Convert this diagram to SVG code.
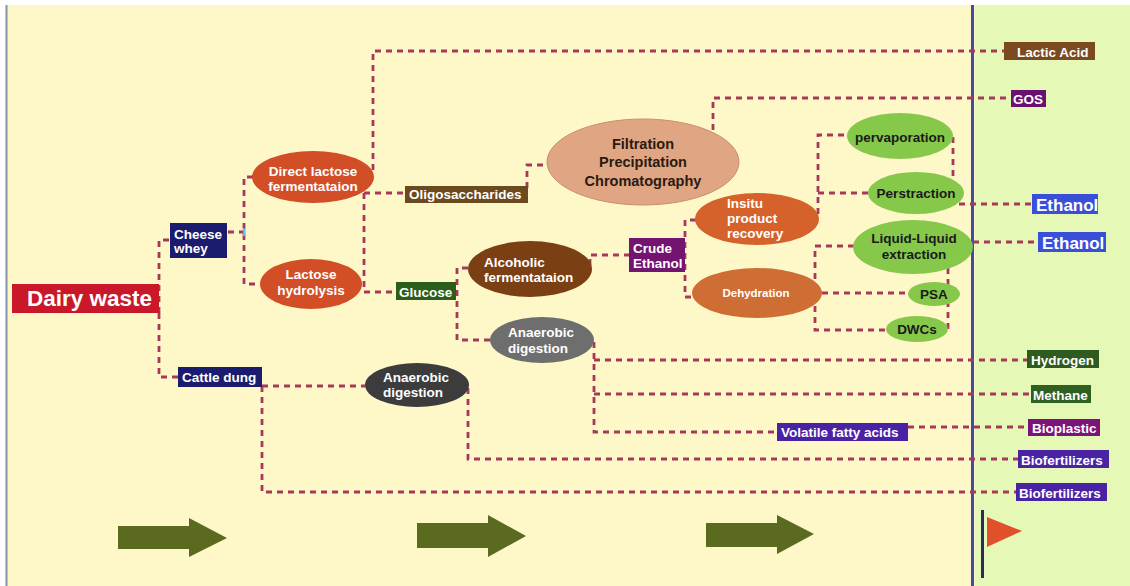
<svg xmlns="http://www.w3.org/2000/svg" width="1130" height="586" viewBox="0 0 1130 586">
<style>
.c{fill:none;stroke:#A8385A;stroke-width:2.8;stroke-dasharray:6 5}
text{font-family:"Liberation Sans",Arial,sans-serif;font-weight:bold;font-size:13.5px;fill:#fff}
.dk{fill:#1a1a1a}
.fl{fill:#2a1a10;font-size:14.5px}
.arrow{fill:#5A6A1E}
</style>
<rect x="0" y="0" width="1130" height="586" fill="#fff"/>
<rect x="7" y="5" width="968" height="581" fill="#FEF8C9"/>
<rect x="975" y="5" width="155" height="581" fill="#E6F8B6"/>
<line x1="6.5" y1="5" x2="6.5" y2="586" stroke="#8393AA" stroke-width="2"/>
<line x1="972.5" y1="5" x2="972.5" y2="586" stroke="#3A4F9E" stroke-width="3"/>

<g id="connectors">
<path class="c" d="M159 313 V240 H170"/>
<path class="c" d="M159 313 V377 H178"/>
<path class="c" d="M228 232 H244"/>
<path class="c" d="M253 177 H244 V284 H260"/>
<path class="c" d="M373 170 V51 H1004"/>
<path class="c" d="M364 193 H405"/>
<path class="c" d="M364 193 V292 H396"/>
<path class="c" d="M527 188 V165 H547"/>
<path class="c" d="M713 130 V98 H1011"/>
<path class="c" d="M468 268 H457 V340 H490"/>
<path class="c" d="M590 265 V255 H629"/>
<path class="c" d="M696 220 H685 V297 H692"/>
<path class="c" d="M818 214 V135 H847"/>
<path class="c" d="M818 193 H868"/>
<path class="c" d="M953 137 V178"/>
<path class="c" d="M959 204 H1032"/>
<path class="c" d="M973 242 H1038"/>
<path class="c" d="M854 246 H815 V330 H887"/>
<path class="c" d="M822 293 H908"/>
<path class="c" d="M948 268 V330"/>
<path class="c" d="M594 342 V432 H777"/>
<path class="c" d="M594 360 H1027"/>
<path class="c" d="M594 394 H1031"/>
<path class="c" d="M908 427 H1028"/>
<path class="c" d="M262 386 H365"/>
<path class="c" d="M262 386 V492 H1016"/>
<path class="c" d="M468 388 V459 H1018"/>
</g>
<rect x="243" y="228" width="2.5" height="8" fill="#4FC3F0"/>

<g id="dairy-waste"><rect x="12" y="284" width="147" height="29" fill="#C8182A"/><text x="27" y="306" style="font-size:22.5px">Dairy waste</text></g>
<g id="cheese-whey"><rect x="170" y="223" width="57" height="35" fill="#1C1C6E"/><text x="174" y="239">Cheese</text><text x="174" y="253">whey</text></g>
<g id="cattle-dung"><rect x="178" y="367" width="84" height="20" fill="#1C1C6E"/><text x="182" y="382">Cattle dung</text></g>
<g id="direct-lactose"><ellipse cx="313" cy="177" rx="61" ry="26" fill="#D24E26"/><text x="313" y="176" text-anchor="middle">Direct lactose</text><text x="313" y="191" text-anchor="middle">fermentataion</text></g>
<g id="lactose-hydrolysis"><ellipse cx="311" cy="284" rx="51" ry="25" fill="#D24E26"/><text x="311" y="279" text-anchor="middle">Lactose</text><text x="311" y="295" text-anchor="middle">hydrolysis</text></g>
<g id="oligosaccharides"><rect x="405" y="186" width="123" height="17" fill="#6B4A1E"/><text x="409" y="199">Oligosaccharides</text></g>
<g id="glucose"><rect x="396" y="282" width="60" height="18" fill="#2B5E1A"/><text x="399" y="297">Glucose</text></g>
<g id="filtration"><ellipse cx="643" cy="162" rx="96" ry="43" fill="#E0A583" stroke="#C9906C" stroke-width="1"/><text class="fl" x="643" y="149" text-anchor="middle">Filtration</text><text class="fl" x="643" y="167" text-anchor="middle">Precipitation</text><text class="fl" x="643" y="186" text-anchor="middle">Chromatography</text></g>
<g id="alcoholic"><ellipse cx="530" cy="269" rx="62" ry="28" fill="#7B3F14"/><text x="484" y="267">Alcoholic</text><text x="484" y="282">fermentataion</text></g>
<g id="crude-ethanol"><rect x="629" y="238" width="56" height="34" fill="#721470"/><text x="633" y="253">Crude</text><text x="633" y="268">Ethanol</text></g>
<g id="insitu"><ellipse cx="757" cy="219" rx="62" ry="26" fill="#D5622A"/><text x="727" y="208">Insitu</text><text x="727" y="223">product</text><text x="727" y="238">recovery</text></g>
<g id="dehydration"><ellipse cx="757" cy="293" rx="65" ry="25" fill="#CF6E34"/><text x="756" y="297" text-anchor="middle" style="font-size:11.5px">Dehydration</text></g>
<g id="pervaporation"><ellipse cx="900" cy="136" rx="53" ry="23" fill="#86C84A"/><text class="dk" x="900" y="142" text-anchor="middle">pervaporation</text></g>
<g id="perstraction"><ellipse cx="916" cy="193" rx="48" ry="21" fill="#86C84A"/><text class="dk" x="916" y="198" text-anchor="middle">Perstraction</text></g>
<g id="liquid-liquid"><ellipse cx="913" cy="247" rx="60" ry="27" fill="#86C84A"/><text class="dk" x="914" y="243" text-anchor="middle">Liquid-Liquid</text><text class="dk" x="914" y="259" text-anchor="middle">extraction</text></g>
<g id="psa"><ellipse cx="934" cy="294" rx="26" ry="12" fill="#86C84A"/><text class="dk" x="934" y="299" text-anchor="middle">PSA</text></g>
<g id="dwcs"><ellipse cx="917" cy="329" rx="31" ry="13" fill="#86C84A"/><text class="dk" x="917" y="334" text-anchor="middle">DWCs</text></g>
<g id="anaerobic-1"><ellipse cx="542" cy="340" rx="52" ry="23" fill="#6E6E6E"/><text x="508" y="337">Anaerobic</text><text x="508" y="353">digestion</text></g>
<g id="anaerobic-2"><ellipse cx="417" cy="385" rx="52" ry="22" fill="#3C3C3C"/><text x="383" y="382">Anaerobic</text><text x="383" y="397">digestion</text></g>
<g id="volatile"><rect x="777" y="423" width="131" height="18" fill="#4A23A5"/><text x="781" y="437">Volatile fatty acids</text></g>
<g id="lactic-acid"><rect x="1004" y="42" width="91" height="18" fill="#7A4A20"/><text x="1017" y="57">Lactic Acid</text></g>
<g id="gos"><rect x="1011" y="90" width="35" height="17" fill="#6A1070"/><text x="1013" y="104">GOS</text></g>
<g id="ethanol-1"><rect x="1032" y="194" width="66" height="20" fill="#3A4FD8"/><text x="1036" y="211" style="font-size:17px">Ethanol</text></g>
<g id="ethanol-2"><rect x="1038" y="232" width="68" height="20" fill="#3A4FD8"/><text x="1042" y="249" style="font-size:17px">Ethanol</text></g>
<g id="hydrogen"><rect x="1027" y="350" width="72" height="18" fill="#2F5A20"/><text x="1031" y="365">Hydrogen</text></g>
<g id="methane"><rect x="1031" y="385" width="60" height="18" fill="#305F22"/><text x="1033" y="400">Methane</text></g>
<g id="bioplastic"><rect x="1028" y="419" width="72" height="17" fill="#7A1478"/><text x="1032" y="433">Bioplastic</text></g>
<g id="biofertilizers-1"><rect x="1018" y="450" width="91" height="18" fill="#4A23A5"/><text x="1021" y="465">Biofertilizers</text></g>
<g id="biofertilizers-2"><rect x="1016" y="483" width="91" height="18" fill="#4A23A5"/><text x="1019" y="498">Biofertilizers</text></g>

<g id="flow-arrows">
<polygon class="arrow" points="118,526 189,526 189,518 227,538 189,557 189,549 118,549"/>
<polygon class="arrow" points="417,523 488,523 488,515 526,536 488,557 488,548 417,548"/>
<polygon class="arrow" points="706,523 777,523 777,515 814,534 777,554 777,547 706,547"/>
</g>
<g id="flag">
<line x1="982.5" y1="510" x2="982.5" y2="578" stroke="#2B2B5B" stroke-width="3"/>
<polygon points="987,517 1022,531 987,547" fill="#E0502A"/>
</g>
</svg>
